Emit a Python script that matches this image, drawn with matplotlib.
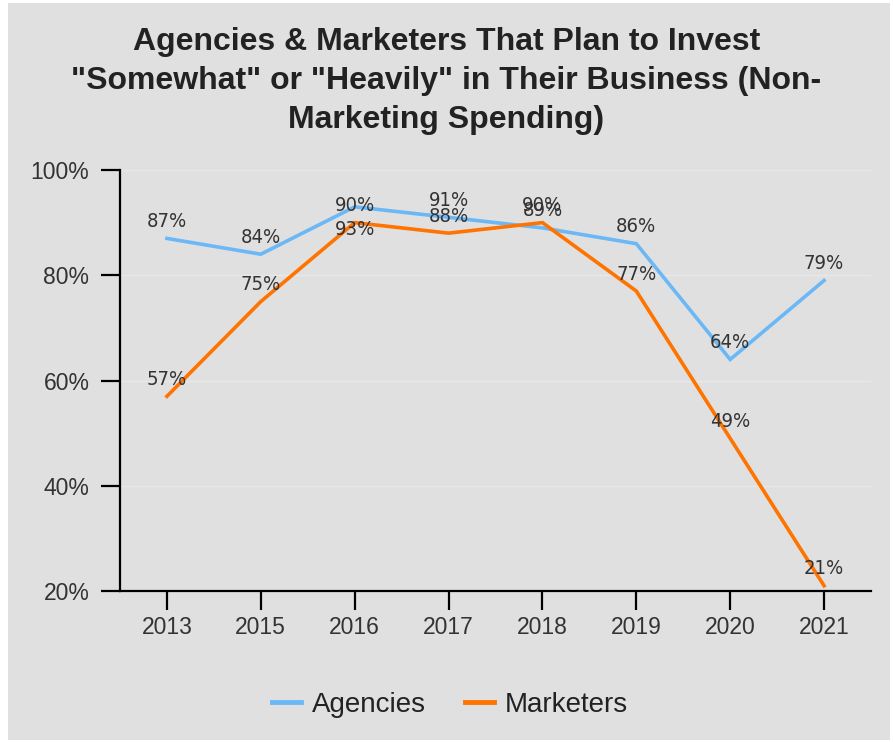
import matplotlib.pyplot as plt
from matplotlib.patches import Rectangle
from matplotlib.lines import Line2D

years = ['2013', '2015', '2016', '2017', '2018', '2019', '2020', '2021']
agencies = [87, 84, 93, 91, 89, 86, 64, 79]
marketers = [57, 75, 90, 88, 90, 77, 49, 21]

BG = '#e0e0e0'
BLUE = '#6cb8f6'
ORANGE = '#ff7300'

fig = plt.figure(figsize=(8.93, 7.42), dpi=100, facecolor='white')
fig.patches.append(Rectangle((8 / 893, 2 / 742), 882 / 893, 737 / 742,
                             transform=fig.transFigure, facecolor=BG,
                             edgecolor='none', zorder=-10))

ax = fig.add_axes([120 / 893, 1 - 591 / 742, 751 / 893, 421 / 742])
ax.set_facecolor(BG)

x = list(range(len(years)))
ax.plot(x, agencies, color=BLUE, lw=2.6, solid_joinstyle='miter', zorder=3)
ax.plot(x, marketers, color=ORANGE, lw=2.6, solid_joinstyle='miter', zorder=3)

# value labels sit just above each point; one is pushed below to dodge the other series
label_font = dict(family='DejaVu Sans', fontstretch='condensed', fontsize=14.5,
                  color='#333333', ha='center', va='center', zorder=5)
for i, v in enumerate(agencies):
    dy = -23 if years[i] == '2016' else 17
    ax.annotate(f'{v}%', (i, v), xytext=(0, dy), textcoords='offset pixels', **label_font)
for i, v in enumerate(marketers):
    ax.annotate(f'{v}%', (i, v), xytext=(0, 17), textcoords='offset pixels', **label_font)

ax.set_xlim(-0.5, len(years) - 0.5)
ax.set_ylim(20, 100)
ax.set_xticks(x)
ax.set_xticklabels(years)
ax.set_yticks([20, 40, 60, 80, 100])
ax.set_yticklabels([f'{t}%' for t in [20, 40, 60, 80, 100]])
for t in [40, 60, 80, 100]:
    ax.axhline(t, color='#e8e8e8', lw=1, zorder=1)

for s in ['top', 'right']:
    ax.spines[s].set_visible(False)
for s in ['left', 'bottom']:
    ax.spines[s].set_linewidth(1.6)
    ax.spines[s].set_color('black')
ax.tick_params(axis='both', length=14, width=1.6, color='black',
               labelsize=16.5, labelcolor='#333333')
ax.tick_params(axis='x', pad=4)
ax.tick_params(axis='y', pad=8)
for lab in ax.get_xticklabels() + ax.get_yticklabels():
    lab.set_family('Liberation Sans')

fig.text(0.5, 1 - 81 / 742,
         'Agencies & Marketers That Plan to Invest\n'
         '"Somewhat" or "Heavily" in Their Business (Non-\n'
         'Marketing Spending)',
         ha='center', va='center', fontsize=23, fontweight='bold',
         family='Liberation Sans', color='#222222', linespacing=1.38)

handles = [Line2D([], [], color=BLUE, lw=3.5), Line2D([], [], color=ORANGE, lw=3.5)]
fig.legend(handles, ['Agencies', 'Marketers'], loc='center',
           bbox_to_anchor=(450 / 893, 1 - 705 / 742), ncol=2, frameon=False,
           prop={'family': 'Liberation Sans', 'size': 20}, labelcolor='#222222',
           handlelength=1.05, handletextpad=0.4, columnspacing=1.4)

fig.savefig('out.png', dpi=100, facecolor='white')
